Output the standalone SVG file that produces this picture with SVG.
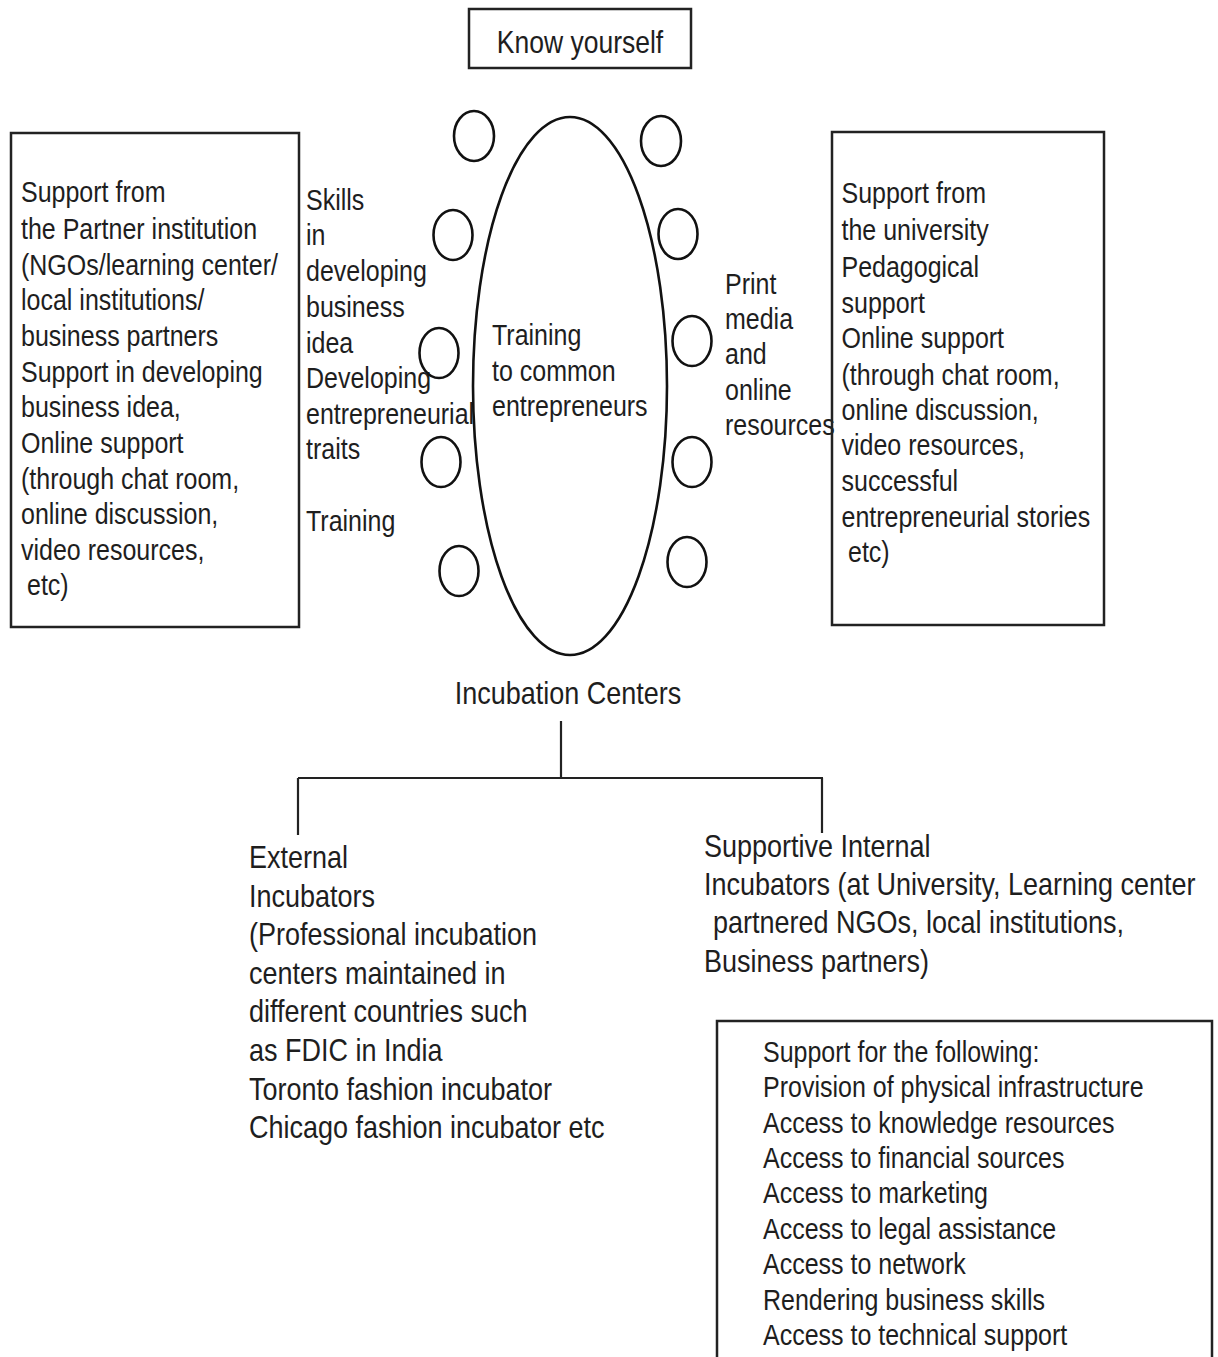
<svg xmlns="http://www.w3.org/2000/svg" width="1218" height="1357" viewBox="0 0 1218 1357">
<style>
text{font-family:"Liberation Sans",Arial,sans-serif;fill:#1e1e1e}
.t25{font-size:25px}
.t26{font-size:26.5px}
.t27{font-size:27px}
.box{fill:none;stroke:#222;stroke-width:2.5}
.ring{fill:none;stroke:#111;stroke-width:2.6}
.conn{fill:none;stroke:#222;stroke-width:2.2}
</style>
<rect width="1218" height="1357" fill="#fff"/>
<g id="know-yourself">
<rect class="box" x="469" y="9" width="222" height="59"/>
<text class="t26" text-anchor="middle" transform="translate(580,53) scale(1,1.19)">Know yourself</text>
</g>
<g id="partner-support">
<rect class="box" x="11" y="133" width="288" height="494"/>
<text class="t25" transform="translate(21,202) scale(1,1.19)"><tspan x="0" y="0">Support from</tspan><tspan x="0" y="31.1">the Partner institution</tspan><tspan x="0" y="61.3">(NGOs/learning center/</tspan><tspan x="0" y="90.8">local institutions/</tspan><tspan x="0" y="121">business partners</tspan><tspan x="0" y="151.3">Support in developing</tspan><tspan x="0" y="180.7">business idea,</tspan><tspan x="0" y="210.9">Online support</tspan><tspan x="0" y="241.2">(through chat room,</tspan><tspan x="0" y="270.6">online discussion,</tspan><tspan x="0" y="300.8">video resources,</tspan><tspan x="6" y="330.3">etc)</tspan></text>
</g>
<g id="skills-label">
<text class="t25" transform="translate(306,210) scale(1,1.19)"><tspan x="0" y="0">Skills</tspan><tspan x="0" y="29.4">in</tspan><tspan x="0" y="59.7">developing</tspan><tspan x="0" y="89.9">business</tspan><tspan x="0" y="120.2">idea</tspan><tspan x="0" y="149.6">Developing</tspan><tspan x="0" y="179.8">entrepreneurial</tspan><tspan x="0" y="209.2">traits</tspan><tspan x="0" y="269.7">Training</tspan></text>
</g>
<g id="training-table">
<ellipse class="ring" cx="570" cy="386" rx="97" ry="269"/>
<text class="t25" transform="translate(492,345) scale(1,1.19)"><tspan x="0" y="0">Training</tspan><tspan x="0" y="30.3">to common</tspan><tspan x="0" y="59.7">entrepreneurs</tspan></text>
</g>
<g id="seats">
<ellipse class="ring" cx="474" cy="136" rx="20" ry="25"/>
<ellipse class="ring" cx="453" cy="235" rx="19.5" ry="25"/>
<ellipse class="ring" cx="439" cy="353" rx="19.5" ry="25"/>
<ellipse class="ring" cx="441" cy="462" rx="19.5" ry="25"/>
<ellipse class="ring" cx="459" cy="571" rx="19.5" ry="25"/>
<ellipse class="ring" cx="661" cy="141" rx="20" ry="25"/>
<ellipse class="ring" cx="678" cy="234" rx="19.5" ry="25"/>
<ellipse class="ring" cx="692" cy="341" rx="19.5" ry="25"/>
<ellipse class="ring" cx="692" cy="462" rx="19.5" ry="25"/>
<ellipse class="ring" cx="687" cy="562" rx="19.5" ry="25"/>
</g>
<g id="print-media-label">
<text class="t25" transform="translate(725,294) scale(1,1.19)"><tspan x="0" y="0">Print</tspan><tspan x="0" y="29.4">media</tspan><tspan x="0" y="58.8">and</tspan><tspan x="0" y="89.1">online</tspan><tspan x="0" y="118.5">resources</tspan></text>
</g>
<g id="university-support">
<rect class="box" x="832" y="132" width="272" height="493"/>
<text class="t25" transform="translate(841.5,203) scale(1,1.19)"><tspan x="0" y="0">Support from</tspan><tspan x="0" y="31.1">the university</tspan><tspan x="0" y="62.2">Pedagogical</tspan><tspan x="0" y="92.4">support</tspan><tspan x="0" y="121.8">Online support</tspan><tspan x="0" y="152.9">(through chat room,</tspan><tspan x="0" y="182.4">online discussion,</tspan><tspan x="0" y="211.8">video resources,</tspan><tspan x="0" y="242">successful</tspan><tspan x="0" y="272.3">entrepreneurial stories</tspan><tspan x="6.5" y="301.7">etc)</tspan></text>
</g>
<g id="incubation-centers">
<text class="t27" text-anchor="middle" transform="translate(568,704) scale(1,1.19)">Incubation Centers</text>
</g>
<g id="connectors">
<path class="conn" d="M561 721 V778 M298 778 H823 M298 778 V835 M822 778 V833"/>
</g>
<g id="external-incubators">
<text class="t27" transform="translate(249,868) scale(1,1.19)"><tspan x="0" y="0">External</tspan><tspan x="0" y="32.4">Incubators</tspan><tspan x="0" y="64.9">(Professional incubation</tspan><tspan x="0" y="97.3">centers maintained in</tspan><tspan x="0" y="129.8">different countries such</tspan><tspan x="0" y="162.2">as FDIC in India</tspan><tspan x="0" y="194.6">Toronto fashion incubator</tspan><tspan x="0" y="227.1">Chicago fashion incubator etc</tspan></text>
</g>
<g id="internal-incubators">
<text class="t27" transform="translate(704,857) scale(1,1.19)"><tspan x="0" y="0">Supportive Internal</tspan><tspan x="0" y="31.9">Incubators (at University, Learning center</tspan><tspan x="9" y="63.9">partnered NGOs, local institutions,</tspan><tspan x="0" y="96.6">Business partners)</tspan></text>
</g>
<g id="support-list">
<rect class="box" x="717" y="1021" width="495" height="400"/>
<text class="t25" transform="translate(763,1061.5) scale(1,1.19)"><tspan x="0" y="0">Support for the following:</tspan><tspan x="0" y="29.8">Provision of physical infrastructure</tspan><tspan x="0" y="60.1">Access to knowledge resources</tspan><tspan x="0" y="89.5">Access to financial sources</tspan><tspan x="0" y="119.3">Access to marketing</tspan><tspan x="0" y="149.2">Access to legal assistance</tspan><tspan x="0" y="178.6">Access to network</tspan><tspan x="0" y="208.8">Rendering business skills</tspan><tspan x="0" y="238.2">Access to technical support</tspan></text>
</g>
</svg>
